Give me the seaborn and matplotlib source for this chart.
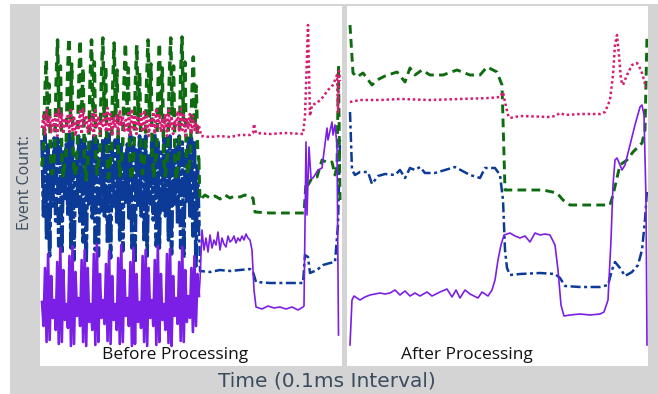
import numpy as np
import matplotlib
matplotlib.use("Agg")
import matplotlib.pyplot as plt
from matplotlib.patches import Rectangle
import seaborn as sns

# ---------------- DATA (time index, event count) ----------------
# "Before Processing" panel: dense noisy burst (t = 2..159), then tails
before_purple_noise = [
    64, 40, 98, 24, 112, 26, 90, 48,
    66, 36, 104, 22, 118, 24, 96, 46,
    62, 38, 110, 20, 120, 22, 94, 50,
    68, 40, 106, 24, 116, 20, 98, 44,
    62, 36, 112, 21, 122, 24, 92, 48,
    66, 42, 102, 25, 115, 22, 90, 46,
    62, 36, 108, 22, 121, 24, 96, 50,
    68, 40, 104, 20, 118, 22, 92, 44,
    64, 38, 110, 24, 116, 20, 98, 48,
    66, 40, 106, 21, 120, 24, 92, 46,
    62, 36, 112, 23, 117, 20, 90, 50,
    68, 42, 104, 25, 119, 24, 96, 44,
    70, 48, 98, 34, 110, 40, 92, 70,
]
before_blue_noise = [
    226, 150, 232, 128, 224, 110, 210, 160,
    228, 145, 230, 120, 226, 112, 214, 165,
    222, 150, 232, 118, 228, 106, 212, 158,
    230, 142, 226, 124, 230, 103, 216, 162,
    224, 148, 232, 116, 226, 110, 210, 155,
    228, 150, 228, 122, 232, 108, 218, 160,
    226, 144, 230, 126, 224, 115, 212, 164,
    222, 148, 232, 118, 228, 103, 216, 158,
    230, 150, 226, 124, 230, 110, 210, 162,
    224, 146, 232, 120, 226, 118, 214, 156,
    228, 150, 228, 126, 230, 112, 218, 160,
    226, 142, 230, 118, 224, 108, 212, 165,
    230, 150, 228, 130, 226, 100, 200, 140,
]
before_magenta_noise = [
    238, 252, 232, 256, 240, 250, 234, 246,
    236, 254, 230, 258, 238, 252, 232, 248,
    240, 252, 234, 256, 236, 250, 230, 246,
    238, 255, 232, 257, 240, 251, 234, 248,
    236, 252, 230, 256, 238, 250, 232, 246,
    240, 254, 234, 258, 236, 252, 230, 248,
    238, 252, 232, 256, 240, 250, 234, 246,
    236, 255, 230, 257, 238, 251, 232, 248,
    240, 252, 234, 256, 236, 250, 230, 246,
    238, 254, 232, 258, 240, 252, 234, 248,
    236, 252, 230, 256, 238, 250, 232, 246,
    240, 255, 234, 257, 236, 251, 230, 248,
    238, 252, 232, 250, 236, 244, 234, 240,
]
before_green_noise = [
    200, 214, 270, 306, 245, 282, 212, 192,
    198, 216, 282, 326, 250, 300, 210, 188,
    202, 212, 285, 328, 248, 302, 214, 190,
    196, 218, 280, 326, 252, 298, 208, 186,
    200, 214, 284, 326, 246, 304, 212, 192,
    204, 216, 286, 328, 250, 300, 210, 188,
    198, 212, 278, 323, 248, 296, 214, 190,
    202, 218, 282, 323, 252, 298, 208, 186,
    196, 214, 280, 321, 246, 294, 212, 192,
    200, 216, 284, 326, 250, 302, 210, 188,
    204, 212, 278, 323, 248, 298, 214, 190,
    198, 218, 286, 328, 252, 300, 208, 186,
    202, 214, 288, 329, 246, 304, 212, 192,
    200, 216, 272, 309, 240, 280, 214, 205,
]

before_purple_tail_t = [160, 162, 164, 166, 168, 170, 172, 174, 176, 178, 180, 182, 184, 186,
                        188, 190, 192, 194, 196, 198, 200, 202, 204, 206, 208, 210, 212, 214,
                        216, 222, 228, 234, 240, 246, 252, 258, 263, 264, 266, 267, 269, 271,
                        273, 278, 282, 283, 287, 288, 292, 293, 295, 297, 298.5]
before_purple_tail = [86, 136, 116, 128, 114, 131, 118, 126, 121, 134, 116, 128, 122, 119,
                      130, 124, 126, 130, 123, 128, 125, 130, 126, 132, 128, 126, 116, 76,
                      59, 57, 60, 58, 59, 57, 59, 56, 59, 60, 224, 151, 219, 188,
                      188, 196, 198, 206, 238, 226, 244, 231, 241, 221, 31]

before_blue_tail_t = [160, 170, 180, 190, 200, 210, 213, 216, 230, 250, 263, 265, 268, 270,
                      277, 283, 290, 295, 298, 300]
before_blue_tail = [95, 94, 96, 95, 96, 97, 94, 84, 83, 83, 83, 111, 109, 93,
                    96, 101, 103, 104, 141, 226]

before_magenta_tail_t = [160, 161, 170, 180, 190, 200, 210, 213, 214, 216, 230, 245, 263, 265,
                         268, 270, 272, 277, 283, 288, 293, 297, 298, 299, 300]
before_magenta_tail = [236, 230, 229, 230, 229, 231, 231, 233, 242, 233, 232, 233, 232, 250,
                       341, 250, 261, 263, 269, 276, 281, 291, 254, 295, 285]

before_green_tail_t = [160, 165, 170, 175, 180, 185, 190, 195, 200, 205, 210, 213, 215, 230,
                       250, 264, 266, 268, 272, 277, 282, 288, 292, 295, 297, 298.5, 300]
before_green_tail = [166, 171, 168, 170, 167, 171, 168, 170, 169, 171, 169, 168, 154, 153,
                     153, 153, 184, 181, 188, 189, 206, 203, 204, 191, 200, 301, 166]

# "After Processing" panel
after_green_t = [3, 6, 10, 16, 25, 30, 38, 50, 58, 63, 68, 75, 83, 96, 110, 123, 133, 140,
                 150, 155, 156, 158, 163, 176, 196, 210, 216, 223, 243, 263, 266, 273, 280,
                 286, 295, 298, 300]
after_green = [341, 293, 289, 293, 281, 286, 290, 294, 284, 298, 291, 296, 291, 291, 296, 291,
               291, 299, 294, 281, 246, 176, 176, 176, 176, 173, 166, 161, 161, 161, 171, 201,
               206, 214, 223, 236, 331]

after_magenta_t = [3, 13, 33, 53, 83, 113, 143, 153, 156, 158, 161, 163, 173, 203, 208, 213,
                   218, 233, 253, 258, 263, 266, 268, 270, 272, 274, 276, 280, 285, 290, 294,
                   297, 299]
after_magenta = [264, 266, 266, 267, 266, 267, 268, 269, 274, 264, 251, 248, 250, 249, 250, 253,
                 251, 252, 252, 254, 266, 291, 321, 331, 311, 286, 281, 291, 301, 303, 296,
                 286, 278]

after_blue_t = [3, 5, 8, 13, 21, 25, 31, 38, 48, 53, 58, 63, 68, 73, 78, 88, 98, 108, 123,
                133, 138, 148, 153, 156, 158, 160, 163, 173, 193, 208, 213, 218, 233, 253,
                261, 265, 268, 273, 278, 285, 291, 295, 298, 300]
after_blue = [254, 196, 191, 194, 194, 182, 190, 192, 191, 196, 188, 198, 196, 199, 193, 193,
              196, 199, 191, 188, 198, 198, 191, 166, 116, 98, 91, 92, 93, 92, 88, 80, 79, 79,
              81, 96, 104, 98, 90, 94, 101, 116, 146, 176]

after_purple_t = [3, 5, 7, 10, 13, 18, 23, 28, 33, 38, 43, 48, 53, 58, 63, 68, 73, 80, 85, 93,
                  100, 105, 109, 113, 118, 123, 131, 135, 141, 145, 148, 151, 154, 157, 163,
                  168, 173, 178, 183, 188, 193, 198, 203, 208, 211, 214, 217, 223, 233, 243,
                  253, 257, 261, 264, 266, 268, 270, 273, 275, 278, 283, 288, 293, 295, 297,
                  299, 300]
after_purple = [21, 66, 70, 68, 66, 69, 71, 72, 73, 72, 73, 76, 71, 75, 70, 73, 70, 74, 70, 74,
                77, 69, 76, 68, 76, 72, 68, 74, 70, 76, 86, 106, 121, 131, 133, 130, 128, 130,
                124, 133, 131, 132, 131, 121, 96, 61, 50, 51, 52, 51, 52, 54, 66, 126, 181,
                206, 208, 201, 196, 201, 221, 241, 259, 261, 251, 166, 21]

# ---------------- STYLE ----------------
C_GREEN = "#0e6b10"
C_MAGENTA = "#d81b72"
C_BLUE = "#0b3b97"
C_PURPLE = "#7b1fe6"
C_TEXT = "#3b4c5f"

STYLES = {
    "blue": dict(color=C_BLUE, linestyle=(0, (4, 1.4, 1.2, 1.4)), linewidth=1.8, zorder=1),
    "green": dict(color=C_GREEN, linestyle=(0, (3, 1.8)), linewidth=2.1, zorder=2),
    "magenta": dict(color=C_MAGENTA, linestyle=(0, (1, 1.1)), linewidth=1.8, zorder=3),
    "purple": dict(color=C_PURPLE, linestyle="-", linewidth=1.2, zorder=4),
}
NOISE_STYLES = {
    "blue": dict(color=C_BLUE, linestyle=(0, (5, 0.9, 1.5, 0.9)), linewidth=2.6, zorder=1),
    "green": dict(color=C_GREEN, linestyle=(0, (2.6, 1.8)), linewidth=2.5, zorder=2),
    "magenta": dict(color=C_MAGENTA, linestyle=(0, (1, 1.0)), linewidth=1.9, zorder=3),
    "purple": dict(color=C_PURPLE, linestyle="-", linewidth=1.9, zorder=4),
}

fig = plt.figure(figsize=(6.58, 3.94), dpi=100, facecolor="white")
bg = Rectangle((10 / 658, 0), 648 / 658, 390 / 394, transform=fig.transFigure,
               facecolor="#d4d4d4", edgecolor="none", zorder=-10)
fig.add_artist(bg)

ax1 = fig.add_axes([40 / 658, 28 / 394, 302 / 658, 360 / 394], zorder=1)
ax2 = fig.add_axes([347 / 658, 28 / 394, 301 / 658, 360 / 394], zorder=1)


def draw(ax, t, v, style):
    sns.lineplot(x=np.asarray(t, float), y=np.asarray(v, float), ax=ax, sort=False,
                 estimator=None, **style)


def draw_before(ax, noise, tail_t, tail, key):
    nt = np.linspace(2, 159, len(noise))
    draw(ax, nt, noise, NOISE_STYLES[key])
    draw(ax, np.concatenate([nt[-1:], tail_t]), np.concatenate([noise[-1:], tail]), STYLES[key])


draw_before(ax1, before_blue_noise, before_blue_tail_t, before_blue_tail, "blue")
draw_before(ax1, before_green_noise, before_green_tail_t, before_green_tail, "green")
draw_before(ax1, before_magenta_noise, before_magenta_tail_t, before_magenta_tail, "magenta")
draw_before(ax1, before_purple_noise, before_purple_tail_t, before_purple_tail, "purple")

draw(ax2, after_blue_t, after_blue, STYLES["blue"])
draw(ax2, after_green_t, after_green, STYLES["green"])
draw(ax2, after_magenta_t, after_magenta, STYLES["magenta"])
draw(ax2, after_purple_t, after_purple, STYLES["purple"])

for ax, xmax in ((ax1, 302), (ax2, 301)):
    ax.set_xlim(0, xmax)
    ax.set_ylim(0, 360)
    ax.set_facecolor("white")
    for s in ax.spines.values():
        s.set_visible(False)
    ax.set_xticks([])
    ax.set_yticks([])
    ax.set_xlabel("")
    ax.set_ylabel("")

ax1.text(135, 11, "Before Processing", ha="center", va="center", fontsize=12.5,
         family=["Open Sans", "DejaVu Sans"], color="#111111")
ax2.text(120, 11, "After Processing", ha="center", va="center", fontsize=12.5,
         family=["Open Sans", "DejaVu Sans"], color="#111111")

fig.text(25 / 658, 1 - 183 / 394, "Event Count:", rotation=90, ha="center", va="center",
         fontsize=11.5, family=["Open Sans", "DejaVu Sans"], color=C_TEXT)
fig.text(327 / 658, 1 - 381 / 394, "Time (0.1ms Interval)", ha="center", va="center",
         fontsize=14.5, family=["DejaVu Sans"], color=C_TEXT)

fig.savefig("out.png", dpi=100, facecolor="white")
